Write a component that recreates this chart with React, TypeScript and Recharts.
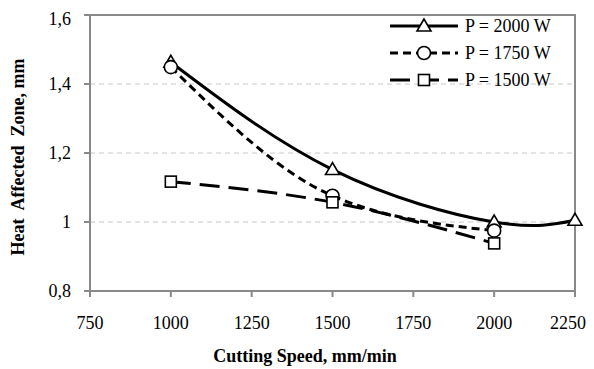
import React from "react";
import {
  LineChart,
  Line,
  XAxis,
  YAxis,
  CartesianGrid,
  ReferenceArea,
} from "recharts";

const speeds = [1000, 1500, 2000, 2250];
const p2000 = [1.463, 1.152, 1.0, 1.005];
const p1750 = [1.449, 1.076, 0.975];
const p1500 = [1.117, 1.057, 0.938];

const xTicks = [750, 1000, 1250, 1500, 1750, 2000, 2250];
const yTicks = [0.8, 1.0, 1.2, 1.4, 1.6];

const data = speeds.map((s, i) => ({
  x: s,
  p2000: p2000[i] ?? null,
  p1750: p1750[i] ?? null,
  p1500: p1500[i] ?? null,
}));

const FONT = "'Liberation Serif', 'Times New Roman', serif";
const AXIS = "#898989";

const Triangle = ({ cx, cy }: { cx: number; cy: number }) => (
  <polygon
    points={`${cx},${cy - 7} ${cx - 7},${cy + 5} ${cx + 7},${cy + 5}`}
    fill="#fff"
    stroke="#000"
    strokeWidth={1.6}
  />
);
const Circ = ({ cx, cy }: { cx: number; cy: number }) => (
  <circle cx={cx} cy={cy} r={6.5} fill="#fff" stroke="#000" strokeWidth={1.6} />
);
const Square = ({ cx, cy }: { cx: number; cy: number }) => (
  <rect x={cx - 5.5} y={cy - 5.5} width={11} height={11} fill="#fff" stroke="#000" strokeWidth={1.6} />
);

const series = [
  { key: "p2000", name: "P = 2000 W", dash: undefined, curve: "natural", Marker: Triangle },
  { key: "p1750", name: "P = 1750 W", dash: "8 5", curve: "monotone", Marker: Circ },
  { key: "p1500", name: "P = 1500 W", dash: "20 9", curve: "monotone", Marker: Square },
];

const fmt = (v: number) =>
  Number.isInteger(v) ? String(v) : v.toFixed(1).replace(".", ",");

// legend drawn inside the svg so it doesn't steal plot space
const LegendG = () => (
  <g transform="translate(375, 0)">
    {series.map((s, i) => {
      const y = 18 + i * 27;
      const M = s.Marker;
      return (
        <g key={s.key}>
          <line x1={7} x2={75} y1={y} y2={y} stroke="#000" strokeWidth={3} strokeDasharray={s.dash} />
          <M cx={41} cy={y} />
          <text x={82} y={y} dominantBaseline="central" fontFamily={FONT} fontSize={18} fill="#000">
            {s.name}
          </text>
        </g>
      );
    })}
  </g>
);

const XTitle = () => (
  <g>
    <text x={297} y={348} textAnchor="middle" dominantBaseline="central" fontFamily={FONT} fontSize={18} fontWeight="bold" fill="#000">
      Cutting Speed, mm/min
    </text>
    <LegendG />
  </g>
);

const YTitle = () => (
  <text
    x={10}
    y={149}
    textAnchor="middle"
    dominantBaseline="central"
    transform="rotate(-90, 10, 149)"
    fontFamily={FONT}
    fontSize={18}
    fontWeight="bold"
    fill="#000"
    style={{ whiteSpace: "pre" }}
  >
    {"Heat  Affected  Zone, mm"}
  </text>
);

export default function App() {
  return (
    <LineChart
      width={578}
      height={361}
      data={data}
      margin={{ top: 7, right: 11, left: 0, bottom: 0 }}
      style={{ fontFamily: FONT }}
    >
      <CartesianGrid vertical={false} stroke="#c8c8c8" strokeDasharray="5 4" />
      <ReferenceArea x1={750} x2={2250} y1={0.8} y2={1.6} fill="none" stroke={AXIS} strokeWidth={2} ifOverflow="visible" />
      <XAxis
        dataKey="x"
        type="number"
        domain={[750, 2250]}
        ticks={xTicks}
        height={78}
        axisLine={{ stroke: AXIS, strokeWidth: 2 }}
        tickLine={{ stroke: AXIS, strokeWidth: 2 }}
        tickSize={6}
        tickMargin={19}
        tick={{ fill: "#000", fontSize: 18, fontFamily: FONT }}
        label={<XTitle />}
      />
      <YAxis
        type="number"
        domain={[0.8, 1.6]}
        ticks={yTicks}
        width={82}
        tickFormatter={fmt}
        axisLine={{ stroke: AXIS, strokeWidth: 2 }}
        tickLine={{ stroke: AXIS, strokeWidth: 2 }}
        tickSize={6}
        tickMargin={13}
        tick={{ fill: "#000", fontSize: 18, fontFamily: FONT }}
        label={<YTitle />}
      />
      {series.map((s) => (
        <Line
          key={s.key}
          dataKey={s.key}
          name={s.name}
          type={s.curve as any}
          stroke="#000"
          strokeWidth={3}
          strokeDasharray={s.dash}
          dot={(p: any) =>
            p.value == null || p.cy == null ? (
              <g key={`${s.key}-${p.index}`} />
            ) : (
              <s.Marker key={`${s.key}-${p.index}`} cx={p.cx} cy={p.cy} />
            )
          }
          activeDot={false}
          isAnimationActive={false}
        />
      ))}
    </LineChart>
  );
}
